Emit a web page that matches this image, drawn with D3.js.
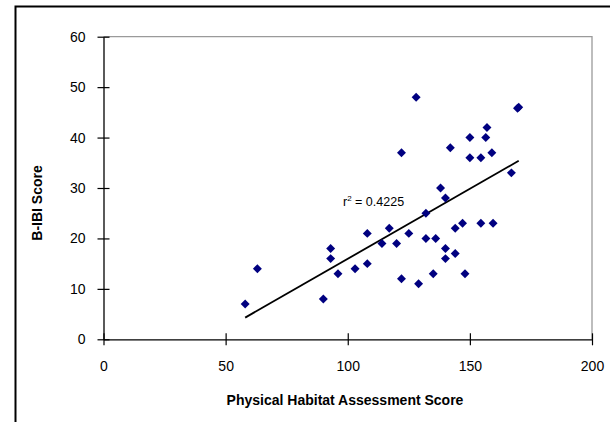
<!DOCTYPE html>
<html>
<head>
<meta charset="utf-8">
<script src="https://cdn.jsdelivr.net/npm/d3@7"></script>
<style>
  html, body { margin: 0; padding: 0; background: #fff; }
  svg { display: block; }
  text { font-family: "Liberation Sans", Arial, sans-serif; fill: #000; }
</style>
</head>
<body>
<svg id="chart" width="610" height="422"></svg>
<script>
// ---- data ----
const habitatScore = [58, 63, 90, 93, 93, 96, 103, 108, 108, 114, 117, 120, 122, 122, 125, 128, 129, 132, 132, 135, 136, 138, 140, 140, 140, 142, 144, 144, 147, 148, 150, 150, 154.5, 154.5, 156.5, 157, 159, 159.5, 167, 169.5, 170];
const bibiScore    = [7, 14, 8, 18, 16, 13, 14, 21, 15, 19, 22, 19, 37, 12, 21, 48, 11, 25, 20, 13, 20, 30, 28, 18, 16, 38, 22, 17, 23, 13, 36, 40, 36, 23, 40, 42, 37, 23, 33, 45.8, 46];
const trendX = [58, 170];
const trendY = [4.3, 35.4];
const xTicks = [0, 50, 100, 150, 200];
const yTicks = [0, 10, 20, 30, 40, 50, 60];
const rSquaredLabel = "0.4225";
const xTitle = "Physical Habitat Assessment Score";
const yTitle = "B-IBI Score";

const svg = d3.select("#chart");

// outer chart frame (extends past the right/bottom edges)
svg.append("rect")
  .attr("x", 15.5).attr("y", 6.5)
  .attr("width", 800).attr("height", 600)
  .attr("fill", "none").attr("stroke", "#000").attr("stroke-width", 2);

const pLeft = 103.5, pRight = 592, pTop = 36.7, pBottom = 339.3;
const x = d3.scaleLinear().domain([0, 200]).range([pLeft, pRight]);
const y = d3.scaleLinear().domain([0, 60]).range([pBottom, pTop]);

// plot area border (gray top and right)
svg.append("path")
  .attr("d", `M${pLeft},${pTop}H${pRight}V${pBottom}`)
  .attr("fill", "none").attr("stroke", "#9a9a9a").attr("stroke-width", 1.3);

// axes with cross tick marks
const xAxis = svg.append("g").attr("transform", `translate(0,${pBottom})`)
  .call(d3.axisBottom(x).tickValues(xTicks).tickSize(6).tickSizeOuter(0).tickPadding(16));
xAxis.selectAll(".tick line").attr("y1", -6).attr("y2", 6);
const yAxis = svg.append("g").attr("transform", `translate(${pLeft},0)`)
  .call(d3.axisLeft(y).tickValues(yTicks).tickSize(6).tickSizeOuter(0).tickPadding(12));
yAxis.selectAll(".tick line").attr("x1", -6).attr("x2", 6);
svg.selectAll(".domain").attr("stroke", "#000").attr("stroke-width", 1.3);
svg.selectAll(".tick line").attr("stroke", "#000").attr("stroke-width", 1.2);
svg.selectAll(".tick text")
  .style("font-family", '"Liberation Sans", Arial, sans-serif')
  .style("font-size", "14px").attr("fill", "#111");
xAxis.selectAll(".tick text").attr("dy", "0.71em");

// trend line
svg.append("line")
  .attr("x1", x(trendX[0])).attr("y1", y(trendY[0]))
  .attr("x2", x(trendX[1])).attr("y2", y(trendY[1]))
  .attr("stroke", "#000").attr("stroke-width", 1.8);

// points
const pts = habitatScore.map((h, i) => ({ h, b: bibiScore[i] }));
const diamond = d3.symbol().type(d3.symbolSquare).size(40);
svg.append("g").selectAll("path").data(pts).join("path")
  .attr("d", diamond)
  .attr("transform", d => `translate(${x(d.h)},${y(d.b)}) rotate(45)`)
  .attr("fill", "#000080");

// r^2 label
const rl = svg.append("text").attr("x", 343).attr("y", 206)
  .style("font-size", "12.5px").attr("fill", "#111");
rl.append("tspan").text("r");
rl.append("tspan").attr("dy", -5).style("font-size", "8px").text("2");
rl.append("tspan").attr("dy", 5).text(" = " + rSquaredLabel);

// axis titles
svg.append("text").attr("x", 345).attr("y", 405)
  .attr("text-anchor", "middle")
  .style("font-size", "14px").style("font-weight", "bold")
  .text(xTitle);
svg.append("text")
  .attr("transform", "translate(42,203) rotate(-90)")
  .attr("text-anchor", "middle")
  .style("font-size", "14px").style("font-weight", "bold")
  .text(yTitle);
</script>
</body>
</html>
